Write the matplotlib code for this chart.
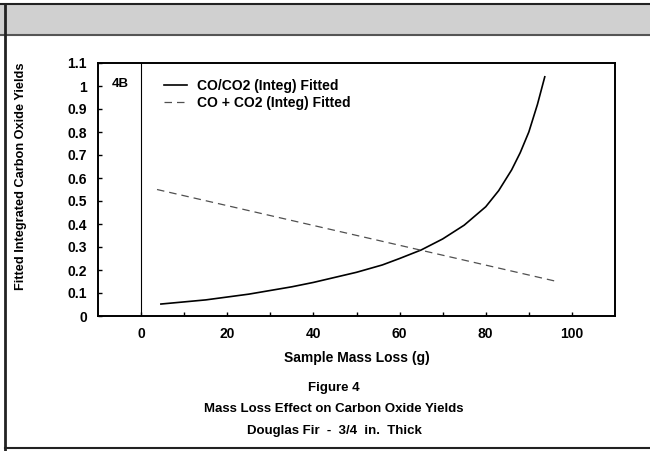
import matplotlib.pyplot as plt
from matplotlib.lines import Line2D
from matplotlib.patches import Rectangle

plt.rcParams['font.family'] = ['Liberation Sans', 'DejaVu Sans']
plt.rcParams['font.weight'] = 'bold'

# values
ratio_x = [4.6, 15, 25, 35, 40, 50, 56, 60, 65, 70, 75, 80, 83, 86, 88, 90, 92, 93.7]
ratio_y = [0.052, 0.07, 0.095, 0.127, 0.146, 0.19, 0.222, 0.25, 0.287, 0.335, 0.395, 0.475, 0.545, 0.635, 0.71, 0.8, 0.92, 1.04]
sum_x = [3.7, 97]
sum_y = [0.55, 0.148]

x_ticks = [0, 20, 40, 60, 80, 100]
x_minor = [10, 30, 50, 70, 90]
y_ticks = [0, 0.1, 0.2, 0.3, 0.4, 0.5, 0.6, 0.7, 0.8, 0.9, 1, 1.1]
y_tick_labels = ["0", "0.1", "0.2", "0.3", "0.4", "0.5", "0.6", "0.7", "0.8", "0.9", "1", "1.1"]

fig = plt.figure(figsize=(6.5, 4.51), dpi=100)
ax = fig.add_axes([98 / 650, 1 - 316 / 451, 517 / 650, 253 / 451])

ax.plot(ratio_x, ratio_y, '-', color='black', lw=1.2, label="CO/CO2 (Integ) Fitted")
ax.plot(sum_x, sum_y, color='#505050', lw=0.9, dashes=(6, 4), label="CO + CO2 (Integ) Fitted")
ax.axvline(0, color='black', lw=0.8)

ax.set_xlim(-10, 110)
ax.set_ylim(0, 1.1)
ax.set_xticks(x_ticks)
ax.set_xticks(x_minor, minor=True)
ax.set_yticks(y_ticks)
ax.set_yticklabels(y_tick_labels)
ax.tick_params(direction='in', length=3, width=1, labelsize=10, pad=8)
ax.tick_params(axis='x', which='minor', direction='in', length=3, width=1)
for lab in ax.get_xticklabels() + ax.get_yticklabels():
    lab.set_fontweight('bold')
for s in ax.spines.values():
    s.set_linewidth(1.4)

ax.text(-4.9, 1.01, "4B", fontsize=9.5, fontweight='bold', ha='center', va='center')

ax.legend(loc='upper left', bbox_to_anchor=(0.103, 0.985), frameon=False,
          handlelength=1.7, handletextpad=0.7, labelspacing=0.2,
          prop={'weight': 'bold', 'size': 10})

ax.set_xlabel("Sample Mass Loss (g)", fontsize=10, fontweight='bold', labelpad=7)
fig.text(21 / 650, 1 - 176 / 451, "Fitted Integrated Carbon Oxide Yields", rotation=90,
         fontsize=9.2, fontweight='bold', ha='center', va='center')

fig.text(334 / 650, 1 - 388 / 451, "Figure 4", fontsize=9.5, fontweight='bold', ha='center', va='center')
fig.text(334 / 650, 1 - 409 / 451, "Mass Loss Effect on Carbon Oxide Yields", fontsize=9.5,
         fontweight='bold', ha='center', va='center')
fig.text(334 / 650, 1 - 431 / 451, "Douglas Fir  -  3/4  in.  Thick", fontsize=9.5,
         fontweight='bold', ha='center', va='center')

# page frame: shaded band on top, borders left and bottom
fig.patches.append(Rectangle((0, 1 - 35 / 451), 1, 32 / 451, transform=fig.transFigure,
                             facecolor='#d0d0d0', edgecolor='none'))
fig.lines.append(Line2D([0, 1], [1 - 4 / 451, 1 - 4 / 451], transform=fig.transFigure, color='#222222', lw=1.5))
fig.lines.append(Line2D([0, 1], [1 - 35 / 451, 1 - 35 / 451], transform=fig.transFigure, color='#555555', lw=1.5))
fig.lines.append(Line2D([5 / 650, 5 / 650], [0, 1 - 4 / 451], transform=fig.transFigure, color='#222222', lw=2))
fig.lines.append(Line2D([5 / 650, 1], [3 / 451, 3 / 451], transform=fig.transFigure, color='#222222', lw=1.5))

fig.savefig("out.png", dpi=100)
